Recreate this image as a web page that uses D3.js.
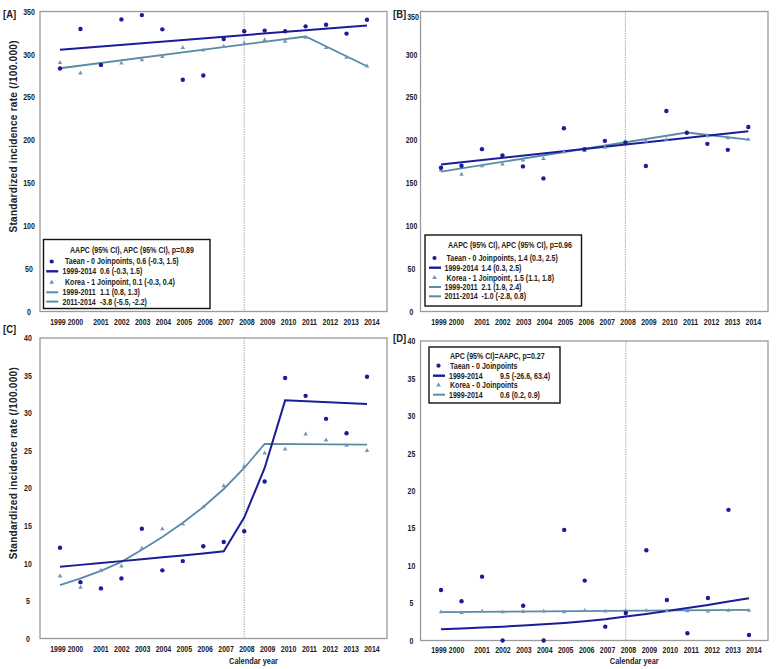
<!DOCTYPE html>
<html><head><meta charset="utf-8">
<script src="https://cdn.jsdelivr.net/npm/d3@7"></script>
<style>
body{margin:0;background:#fff}
text{font-family:"Liberation Sans",Arial,sans-serif;font-weight:bold;fill:#222}
</style>
</head><body>
<svg id="chart" width="776" height="669"></svg>
<script>
// ---------------- DATA ----------------
const years = [1999,2000,2001,2002,2003,2004,2005,2006,2007,2008,2009,2010,2011,2012,2013,2014];

// Panel A
const taeanA = [283.5,329.6,287.7,340.8,345.8,329.2,270.4,275.4,318.0,327.0,327.7,327.0,332.7,334.6,324.2,340.4];
const koreaA = [290.4,278.0,287.7,289.6,293.5,297.3,307.7,305.0,309.2,312.7,316.9,315.0,319.6,307.7,296.5,286.2];
const taeanFitA = [[1999,305.4],[2014,333.8]];
const koreaFitA = [[1999,283.8],[2011,320.8],[2014,286.2]];
const ticksA = [0,50,100,150,200,250,300,350];

// Panel B
const taeanB = [167.7,170.0,189.4,182.0,169.3,155.3,213.8,189.4,199.1,197.1,169.7,233.9,208.4,195.6,188.6,215.3];
const koreaB = [165.0,160.0,169.7,172.0,176.6,178.2,186.3,187.5,191.3,197.1,198.7,200.6,209.5,204.9,202.6,200.6];
const taeanFitB = [[1999,171.6],[2014,210.3]];
const koreaFitB = [[1999,163.1],[2011,208.8],[2014,200.6]];
const ticksB = [0,50,100,150,200,250,300,350];

// Panel C
const taeanC = [12.08,7.5,6.67,8.0,14.6,9.07,10.3,12.27,12.84,14.27,20.9,34.67,32.3,29.24,27.33,34.84];
const koreaC = [8.3,6.8,9.07,9.64,12.0,14.57,15.24,17.5,20.3,22.9,24.67,25.2,27.2,26.4,25.7,25.0];
const taeanFitC = [[1999,9.55],[2000,9.8],[2001,10.05],[2002,10.3],[2003,10.55],[2004,10.8],[2005,11.05],[2006,11.3],[2007,11.6],[2008,16.1],[2009,22.7],[2010,31.7],[2014,31.2]];
const koreaFitC = [[1999,7.1],[2000,8.0],[2001,9.0],[2002,10.2],[2003,11.8],[2004,13.5],[2005,15.4],[2006,17.5],[2007,19.9],[2008,22.7],[2009,25.9],[2014,25.8]];
const ticksC = [0,5,10,15,20,25,30,35,40];

// Panel D
const taeanD = [6.75,5.24,8.53,0,4.65,0,14.77,8.0,1.85,3.68,12.06,5.41,0.96,5.68,17.45,0.74];
const koreaD = [3.8,3.7,3.9,3.8,3.85,3.9,3.8,4.0,3.9,3.95,4.0,3.95,3.95,3.9,4.0,4.0];
const taeanFitD = [[1999,1.5],[2000,1.6],[2001,1.72],[2002,1.85],[2003,2.0],[2004,2.16],[2005,2.35],[2006,2.58],[2007,2.85],[2008,3.2],[2009,3.55],[2010,3.95],[2011,4.35],[2012,4.75],[2013,5.2],[2014,5.65]];
const koreaFitD = [[1999,3.8],[2014,4.1]];
const ticksD = [0,5,10,15,20,25,30,35,40];

const legendA = [
  {type:"title", text:"AAPC (95% CI), APC (95% CI), p=0.89"},
  {type:"dot", text:"Taean - 0 Joinpoints, 0.6 (-0.3, 1.5)"},
  {type:"navy", text:"1999-2014", value:"0.6 (-0.3, 1.5)"},
  {type:"tri", text:"Korea - 1 Joinpoint, 0.1 (-0.3, 0.4)"},
  {type:"teal", text:"1999-2011", value:"1.1 (0.8, 1.3)"},
  {type:"teal", text:"2011-2014", value:"-3.8 (-5.5, -2.2)"}
];
const legendB = [
  {type:"title", text:"AAPC (95% CI), APC (95% CI), p=0.96"},
  {type:"dot", text:"Taean - 0 Joinpoints, 1.4 (0.3, 2.5)"},
  {type:"navy", text:"1999-2014", value:"1.4 (0.3, 2.5)"},
  {type:"tri", text:"Korea - 1 Joinpoint, 1.5 (1.1, 1.8)"},
  {type:"teal", text:"1999-2011", value:"2.1 (1.9, 2.4)"},
  {type:"teal", text:"2011-2014", value:"-1.0 (-2.8, 0.8)"}
];
const legendD = [
  {type:"title", text:"APC (95% CI)=AAPC, p=0.27"},
  {type:"dot", text:"Taean - 0 Joinpoints"},
  {type:"navy", text:"1999-2014", value:"9.5 (-26.6, 63.4)"},
  {type:"tri", text:"Korea - 0 Joinpoints"},
  {type:"teal", text:"1999-2014", value:"0.6 (0.2, 0.9)"}
];

const NAVY = "#1c1c98", TEAL = "#5a8ba6", TRI = "#6f98b8";
const CONDENSE = 0.82;

// condense text horizontally (emulates the narrow font of the original)
function condense(sel, f) {
  sel.each(function() {
    const w = this.getComputedTextLength();
    if (w > 0) d3.select(this).attr("textLength", w * (f || CONDENSE)).attr("lengthAdjust", "spacingAndGlyphs");
  });
  return sel;
}

// ---------------- DRAW ----------------
const svg = d3.select("#chart");

const panels = [
  {id:"[A]", taean:taeanA, korea:koreaA, tFit:taeanFitA, kFit:koreaFitA, ticks:ticksA, max:350,
   fx0:40, fx1:387, fy0:11.5, fy1:311.5, px0:60, px1:367, tickX:29,
   labY:322.5, title:true, lbl:{x:3,y:18}, legend:legendA,
   lg:{x:43.5,y:239.5,w:166.5,h:69, titleX:70, dotX:65, lineX:62.5, symX:51.7, valX:100, rows:[250,261.5,271.3,282.3,292.3,301.6]}},
  {id:"[B]", taean:taeanB, korea:koreaB, tFit:taeanFitB, kFit:koreaFitB, ticks:ticksB, max:350,
   fx0:420.5, fx1:768, fy0:11.5, fy1:311.5, px0:441, px1:748.3, tickX:411.5,
   labY:322.5, title:false, lbl:{x:393,y:18}, legend:legendB, topShift:5,
   lg:{x:425,y:235,w:156.5,h:71, titleX:448, dotX:446.5, lineX:444.5, symX:434.5, valX:481.5, rows:[245.5,258,267.7,277.7,287,296.3]}},
  {id:"[C]", taean:taeanC, korea:koreaC, tFit:taeanFitC, kFit:koreaFitC, ticks:ticksC, max:40,
   fx0:40, fx1:387, fy0:338, fy1:638.5, px0:60, px1:367, tickX:28,
   labY:649.5, title:true, cal:true, lbl:{x:3,y:333}, legend:null},
  {id:"[D]", taean:taeanD, korea:koreaD, tFit:taeanFitD, kFit:koreaFitD, ticks:ticksD, max:40,
   fx0:420.5, fx1:768, fy0:341, fy1:640.5, px0:441, px1:749, tickX:411.5,
   labY:650, title:false, cal:true, lbl:{x:393,y:342}, legend:legendD,
   lg:{x:429,y:347,w:131,h:56, titleX:450, dotX:450, lineX:449, symX:438.5, valX:500, rows:[356.3,365.7,375.7,385,394.7]}}
];

panels.forEach(p => {
  const g = svg.append("g");
  const x = d3.scaleLinear().domain([1999,2014]).range([p.px0,p.px1]);
  const y = d3.scaleLinear().domain([0,p.max]).range([p.fy1,p.fy0]);

  // frame
  g.append("rect").attr("x",p.fx0).attr("y",p.fy0).attr("width",p.fx1-p.fx0).attr("height",p.fy1-p.fy0)
    .attr("fill","none").attr("stroke","#9a9a9a").attr("stroke-width",1.3);

  // dotted 2008 line
  g.append("line").attr("x1",x(2008)).attr("x2",x(2008)).attr("y1",p.fy0).attr("y2",p.fy1)
    .attr("stroke","#8c8c8c").attr("stroke-width",0.9).attr("stroke-dasharray","1.2,1.2");

  // y axis labels
  const ya = g.append("g").attr("transform",`translate(${p.tickX},0)`)
    .call(d3.axisLeft(y).tickValues(p.ticks).tickSize(0).tickPadding(0));
  ya.select(".domain").remove();
  ya.selectAll("text").attr("x",0).attr("text-anchor","middle")
    .style("font-size","8.5px").style("font-family",null).attr("fill","#222");
  if (p.topShift) ya.selectAll(".tick").filter(d=>d===p.max).select("text").attr("transform",`translate(1.5,${p.topShift})`);
  condense(ya.selectAll("text"));

  // x axis labels
  const labPos = d => {
    if (d === 1999) return x(1999) - 2;
    if (d === 2000) return x(2000) - 5;
    const a = x(2001), b = x(2014) + 5;
    return a + (b - a) * (d - 2001) / 13;
  };
  const xl = g.append("g").selectAll("text").data(years).join("text")
    .attr("x", d => labPos(d)).attr("y", p.labY).attr("text-anchor","middle")
    .attr("dy","0.35em").style("font-size","8.5px").text(d => d);
  condense(xl);

  // lines
  const line = d3.line().x(d=>x(d[0])).y(d=>y(d[1]));
  g.append("path").datum(p.kFit).attr("d",line).attr("fill","none").attr("stroke",TEAL).attr("stroke-width",1.8);
  g.append("path").datum(p.tFit).attr("d",line).attr("fill","none").attr("stroke",NAVY).attr("stroke-width",2);

  // Korea triangles
  const tri = d3.symbol().type(d3.symbolTriangle).size(9);
  g.append("g").selectAll("path").data(years).join("path")
    .attr("d",tri).attr("transform",(d,i)=>`translate(${x(d)},${y(p.korea[i])})`).attr("fill",TRI);
  // Taean dots
  g.append("g").selectAll("circle").data(years).join("circle")
    .attr("cx",d=>x(d)).attr("cy",(d,i)=>y(p.taean[i])).attr("r",2.2).attr("fill",NAVY);

  // panel id
  condense(g.append("text").attr("x",p.lbl.x).attr("y",p.lbl.y).style("font-size","10.5px").text(p.id), 0.9);

  // y title
  if (p.title) {
    const cy = (p.fy0 + p.fy1)/2 - 25;
    g.append("text").attr("transform",`translate(17,${cy}) rotate(-90)`).attr("text-anchor","middle")
      .attr("textLength",192).attr("lengthAdjust","spacing")
      .style("font-size","10px").text("Standardized incidence rate (/100.000)");
  }
  if (p.cal) {
    condense(g.append("text").attr("x",(p.fx0+p.fx1)/2+40).attr("y",661).attr("text-anchor","middle")
      .attr("dy","0.35em").style("font-size","9px").text("Calendar year"));
  }

  // legend
  if (p.legend) {
    const L = p.lg;
    const lg = g.append("g");
    const FS = "8.4px", CF = 0.84;
    lg.append("rect").attr("x",L.x).attr("y",L.y).attr("width",L.w).attr("height",L.h)
      .attr("fill","#fff").attr("stroke","#111").attr("stroke-width",1.4);
    p.legend.forEach((r,i) => {
      const ry = L.rows[i];
      if (r.type === "title") {
        condense(lg.append("text").attr("x",L.titleX).attr("y",ry).attr("dy","0.35em").style("font-size",FS).text(r.text), CF);
        return;
      }
      if (r.type === "dot") lg.append("circle").attr("cx",L.symX).attr("cy",ry).attr("r",2.1).attr("fill",NAVY);
      if (r.type === "tri") lg.append("path").attr("d",d3.symbol().type(d3.symbolTriangle).size(10)())
        .attr("transform",`translate(${L.symX},${ry})`).attr("fill",TRI);
      if (r.type === "navy" || r.type === "teal")
        lg.append("line").attr("x1",L.symX-5.5).attr("x2",L.symX+6.5).attr("y1",ry).attr("y2",ry)
          .attr("stroke", r.type==="navy"?NAVY:TEAL).attr("stroke-width", r.type==="navy"?2.4:2);
      const tx = (r.type === "dot" || r.type === "tri") ? L.dotX : L.lineX;
      condense(lg.append("text").attr("x",tx).attr("y",ry).attr("dy","0.35em").style("font-size",FS).text(r.text), CF);
      if (r.value) condense(lg.append("text").attr("x",L.valX).attr("y",ry).attr("dy","0.35em").style("font-size",FS).text(r.value), CF);
    });
  }
});
</script>
</body></html>
